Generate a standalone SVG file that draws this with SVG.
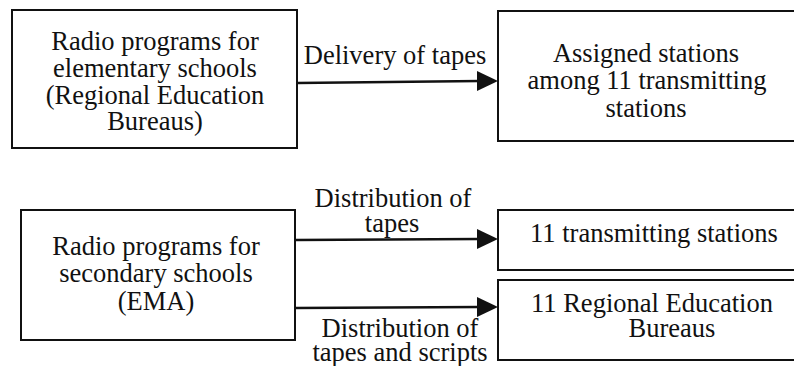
<svg xmlns="http://www.w3.org/2000/svg" width="794" height="366" viewBox="0 0 794 366">
<style>
.box{fill:#fff;stroke:#111;stroke-width:2}
.t{font-family:'Liberation Serif', serif;font-size:26.5px;fill:#111;text-anchor:middle}
.c{stroke:#111;stroke-width:2.5;fill:none}
.ah{fill:#111}
</style>
<rect width="794" height="366" fill="#fff"/>
<g id="n1">
<rect class="box" x="12" y="10" width="285" height="138"/>
<text class="t" x="155" y="50">Radio programs for</text>
<text class="t" x="155" y="77">elementary schools</text>
<text class="t" x="155" y="104">(Regional Education</text>
<text class="t" x="155" y="130">Bureaus)</text>
</g>
<g id="n2">
<rect class="box" x="498" y="11" width="310" height="130"/>
<text class="t" x="646" y="62">Assigned stations</text>
<text class="t" x="647" y="89">among 11 transmitting</text>
<text class="t" x="646" y="117">stations</text>
</g>
<g id="n3">
<rect class="box" x="21" y="210" width="274" height="130"/>
<text class="t" x="156" y="255">Radio programs for</text>
<text class="t" x="156" y="282">secondary schools</text>
<text class="t" x="156" y="310">(EMA)</text>
</g>
<g id="n4">
<rect class="box" x="498" y="210" width="310" height="60"/>
<text class="t" x="654" y="242">11 transmitting stations</text>
</g>
<g id="n5">
<rect class="box" x="498" y="280" width="310" height="80"/>
<text class="t" x="652" y="312">11 Regional Education</text>
<text class="t" x="672" y="337">Bureaus</text>
</g>
<g id="connectors">
<line class="c" x1="297" y1="83" x2="480" y2="81"/>
<polygon class="ah" points="477,71 498,81 477,91"/>
<line class="c" x1="295" y1="240" x2="480" y2="239"/>
<polygon class="ah" points="477,229 498,239 477,249"/>
<line class="c" x1="295" y1="308" x2="480" y2="307"/>
<polygon class="ah" points="477,297 498,307 477,317"/>
<text class="t" x="395" y="64">Delivery of tapes</text>
<text class="t" x="393" y="207">Distribution of</text>
<text class="t" x="392" y="232">tapes</text>
<text class="t" x="400" y="337">Distribution of</text>
<text class="t" x="400" y="361">tapes and scripts</text>
</g>
</svg>
